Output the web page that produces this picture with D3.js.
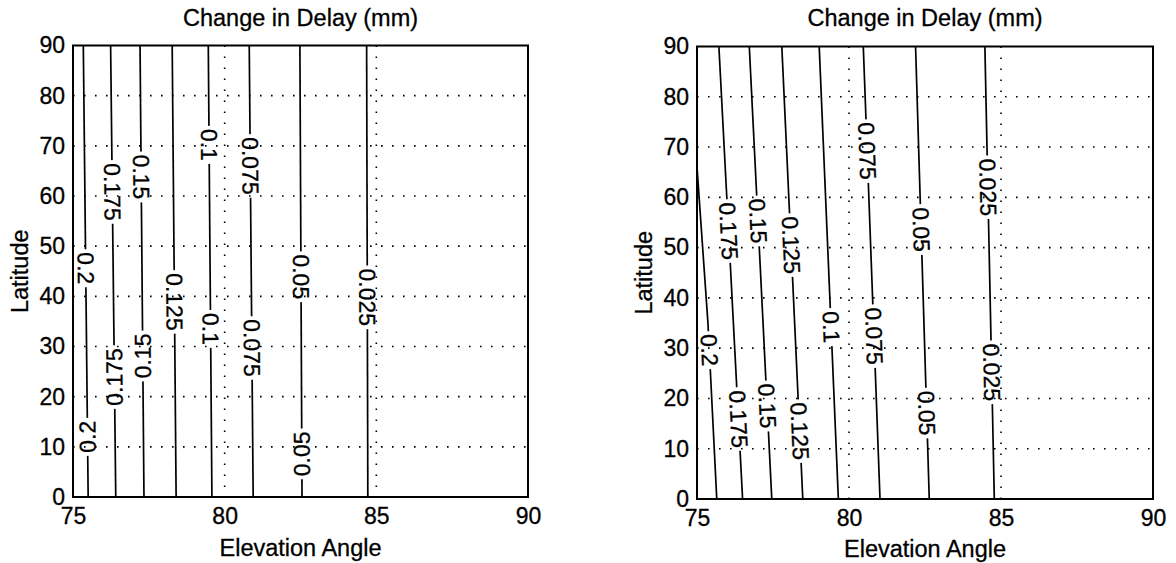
<!DOCTYPE html>
<html>
<head>
<meta charset="utf-8">
<script src="https://cdn.jsdelivr.net/npm/d3@7"></script>
<style>
  body { margin: 0; background: #fff; }
  svg { display: block; font-family: "Liberation Sans", Arial, Helvetica, sans-serif; }
  text { stroke: #000; stroke-width: 0.3px; }
</style>
</head>
<body>
<svg id="chart" width="1176" height="563"></svg>
<script>
// Axis ticks
const elevTicks = [75, 80, 85, 90];
const latTicks = [0, 10, 20, 30, 40, 50, 60, 70, 80, 90];
const gridElev = [80, 85];
const gridLat = [10, 20, 30, 40, 50, 60, 70, 80];

// Contour levels of the delay change (mm)
const levels = [0.2, 0.175, 0.15, 0.125, 0.1, 0.075, 0.05, 0.025];

// Contour paths, one per level: [elevation angle, latitude] points
const leftPaths = [
  [[75.50, 0], [75.34, 90]],
  [[76.41, 0], [76.24, 90]],
  [[77.34, 0], [77.21, 90]],
  [[78.40, 0], [78.27, 90]],
  [[79.58, 0], [79.46, 90]],
  [[80.94, 0], [80.81, 90]],
  [[82.55, 0], [82.48, 90]],
  [[84.72, 0], [84.68, 90]]
];
const rightPaths = [
  [[75.65, 0], [75.36, 35], [75.00, 66]],
  [[76.50, 0], [75.72, 90]],
  [[77.46, 0], [76.72, 90]],
  [[78.48, 0], [77.79, 90]],
  [[79.65, 0], [79.02, 90]],
  [[81.02, 0], [80.47, 90]],
  [[82.64, 0], [82.19, 90]],
  [[84.78, 0], [84.47, 90]]
];

// Inline contour labels: [level, latitude, reading direction (1 = downward, -1 = upward)]
const leftLabels = [
  [0.2, 45.6, 1], [0.2, 12.0, -1],
  [0.175, 60.8, 1], [0.175, 23.9, -1],
  [0.15, 63.8, 1], [0.15, 28.1, -1],
  [0.125, 38.9, 1],
  [0.1, 70.2, 1], [0.1, 33.5, 1],
  [0.075, 66.0, 1], [0.075, 29.7, 1],
  [0.05, 43.9, 1], [0.05, 8.6, -1],
  [0.025, 39.8, 1]
];
const rightLabels = [
  [0.2, 29.6, 1],
  [0.175, 53.3, 1], [0.175, 15.9, 1],
  [0.15, 55.3, 1], [0.15, 18.5, 1],
  [0.125, 50.5, 1], [0.125, 13.5, 1],
  [0.1, 34.2, 1],
  [0.075, 69.2, 1], [0.075, 32.4, 1],
  [0.05, 53.6, 1], [0.05, 17.1, 1],
  [0.025, 62.0, 1], [0.025, 25.2, 1]
];

const svg = d3.select("#chart");
const FONT = 23;
const TITLE_FONT = 23.5;

function drawPanel(id, box, paths, labels) {
  const x = d3.scaleLinear().domain([75, 90]).range([box.x0, box.x1]);
  const y = d3.scaleLinear().domain([0, 90]).range([box.y1, box.y0]);
  const g = svg.append("g").attr("id", id);

  // dotted grid
  const grid = g.append("g")
    .attr("stroke", "#000").attr("stroke-width", 1.6)
    .attr("stroke-dasharray", "1.6,9.4").attr("fill", "none");
  gridElev.forEach(v => grid.append("line")
    .attr("x1", x(v)).attr("x2", x(v)).attr("y1", y(90)).attr("y2", y(0)));
  gridLat.forEach(v => grid.append("line")
    .attr("x1", x(75)).attr("x2", x(90)).attr("y1", y(v)).attr("y2", y(v)));

  // label placement along each contour
  const placed = labels.map(([lev, lat, dir]) => {
    const pts = paths[levels.indexOf(lev)].slice().sort((a, b) => a[1] - b[1]);
    let i = 0;
    while (i < pts.length - 2 && lat > pts[i + 1][1]) i++;
    const a = pts[i], b = pts[i + 1];
    const t = (lat - a[1]) / (b[1] - a[1]);
    const e = a[0] + t * (b[0] - a[0]);
    const dx = x(a[0]) - x(b[0]), dy = y(a[1]) - y(b[1]);
    let ang = Math.atan2(dy, dx) * 180 / Math.PI;
    if (dir < 0) ang -= 180;
    return { text: String(lev), px: x(e), py: y(lat), ang };
  });

  const labelG = g.append("g").attr("font-size", FONT).attr("fill", "#000");
  const texts = labelG.selectAll("text").data(placed).join("text")
    .attr("text-anchor", "middle")
    .attr("dominant-baseline", "central")
    .attr("transform", d => `translate(${d.px},${d.py}) rotate(${d.ang})`)
    .text(d => d.text);
  texts.each(function (d) { d.len = this.getComputedTextLength(); });

  // mask that breaks the contour lines under the labels
  const mask = svg.append("defs").append("mask").attr("id", id + "-mask")
    .attr("maskUnits", "userSpaceOnUse")
    .attr("x", 0).attr("y", 0).attr("width", 1176).attr("height", 563);
  mask.append("rect").attr("x", 0).attr("y", 0).attr("width", 1176).attr("height", 563).attr("fill", "#fff");
  mask.selectAll("rect.gap").data(placed).join("rect").attr("class", "gap")
    .attr("x", d => -d.len / 2 - 3).attr("y", -9)
    .attr("width", d => d.len + 6).attr("height", 18)
    .attr("transform", d => `translate(${d.px},${d.py}) rotate(${d.ang})`)
    .attr("fill", "#000");

  const line = d3.line().x(d => x(d[0])).y(d => y(d[1]));
  g.append("g").attr("mask", `url(#${id}-mask)`)
    .selectAll("path").data(paths).join("path")
    .attr("d", line).attr("fill", "none").attr("stroke", "#000").attr("stroke-width", 1.7);

  labelG.raise();

  // axes box
  g.append("rect")
    .attr("x", box.x0).attr("y", box.y0)
    .attr("width", box.x1 - box.x0).attr("height", box.y1 - box.y0)
    .attr("fill", "none").attr("stroke", "#000").attr("stroke-width", 2);

  const ax = g.append("g").attr("transform", `translate(0,${box.y1})`)
    .call(d3.axisBottom(x).tickValues(elevTicks).tickSize(0).tickPadding(11).tickFormat(d3.format("d")));
  const ay = g.append("g").attr("transform", `translate(${box.x0},0)`)
    .call(d3.axisLeft(y).tickValues(latTicks).tickSize(0).tickPadding(8).tickFormat(d3.format("d")));
  [ax, ay].forEach(a => {
    a.select(".domain").remove();
    a.attr("font-family", null).attr("font-size", FONT);
    a.selectAll("text").attr("fill", "#000");
  });

  const cx = (box.x0 + box.x1) / 2;
  g.append("text").attr("x", cx).attr("y", box.titleY)
    .attr("text-anchor", "middle").attr("font-size", TITLE_FONT).text("Change in Delay (mm)");
  g.append("text").attr("x", cx).attr("y", box.xLabelY)
    .attr("text-anchor", "middle").attr("font-size", TITLE_FONT).text("Elevation Angle");
  g.append("text")
    .attr("transform", `translate(${box.yLabelX},${(box.y0 + box.y1) / 2}) rotate(-90)`)
    .attr("text-anchor", "middle").attr("font-size", TITLE_FONT).text("Latitude");
}

drawPanel("left", { x0: 73, x1: 528, y0: 45.5, y1: 497, titleY: 26, xLabelY: 556, yLabelX: 28 }, leftPaths, leftLabels);
drawPanel("right", { x0: 697, x1: 1153, y0: 46.5, y1: 499, titleY: 26, xLabelY: 557, yLabelX: 652 }, rightPaths, rightLabels);
</script>
</body>
</html>
